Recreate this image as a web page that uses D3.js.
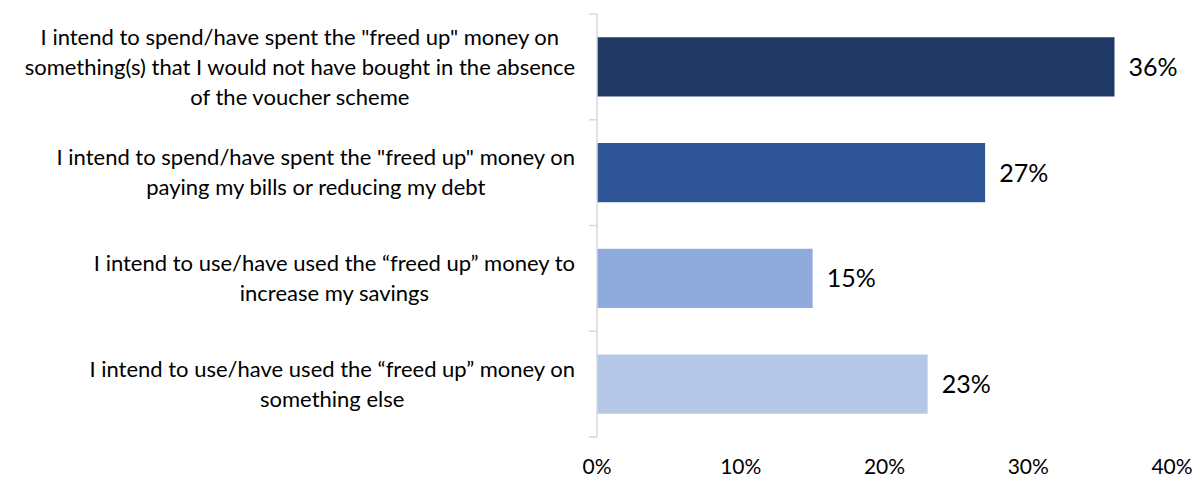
<!DOCTYPE html>
<html>
<head>
<meta charset="utf-8">
<script src="https://cdn.jsdelivr.net/npm/d3@7"></script>
<style>
  html, body { margin: 0; padding: 0; background: #fff; }
  svg { display: block; font-family: Lato, "Open Sans", sans-serif; }
</style>
</head>
<body>
<svg id="chart" width="1198" height="480"></svg>
<script>
// Survey responses: use of the "freed up" money
const categories = [
  ['I intend to spend/have spent the "freed up" money on',
   'something(s) that I would not have bought in the absence',
   'of the voucher scheme'],
  ['I intend to spend/have spent the "freed up" money on',
   'paying my bills or reducing my debt'],
  ['I intend to use/have used the \u201cfreed up\u201d money to',
   'increase my savings'],
  ['I intend to use/have used the \u201cfreed up\u201d money on',
   'something else']
];
const values = [36, 27, 15, 23];
const barColors = ["#203864", "#2f5597", "#8faadc", "#b4c7e7"];
const xTicks = [0, 10, 20, 30, 40];

const svg = d3.select("#chart");
const axisX = 597, plotTop = 14, plotBottom = 437, plotRight = 1172;

const x = d3.scaleLinear().domain([0, 40]).range([axisX, plotRight]);
const y = d3.scaleBand()
  .domain(d3.range(categories.length))
  .range([plotTop, plotBottom])
  .paddingInner(0.44)
  .paddingOuter(0.22);

// Bars
svg.append("g").selectAll("rect")
  .data(values)
  .join("rect")
  .attr("x", x(0))
  .attr("y", (d, i) => y(i))
  .attr("width", d => x(d) - x(0))
  .attr("height", y.bandwidth())
  .attr("fill", (d, i) => barColors[i]);

// Vertical category axis with ticks on band boundaries
const axis = svg.append("g").attr("stroke", "#d9d9d9").attr("stroke-width", 1.5);
axis.append("line")
  .attr("x1", axisX).attr("x2", axisX)
  .attr("y1", plotTop).attr("y2", plotBottom);
const boundaries = d3.range(categories.length + 1).map(i => plotTop + i * y.step());
axis.selectAll("line.tick")
  .data(boundaries)
  .join("line")
  .attr("class", "tick")
  .attr("x1", axisX - 8).attr("x2", axisX)
  .attr("y1", d => d).attr("y2", d => d);

// Value labels
svg.append("g").selectAll("text")
  .data(values)
  .join("text")
  .attr("x", d => x(d) + 14)
  .attr("y", (d, i) => y(i) + y.bandwidth() / 2)
  .attr("dy", "0.36em")
  .attr("font-size", 25)
  .attr("fill", "#000")
  .text(d => d + "%");

// Category labels: wrapped lines centred in a block aligned to the axis
const labelRight = 575, lineHeight = 30;
const catG = svg.append("g").attr("font-size", 22).attr("fill", "#000");
categories.forEach((lines, i) => {
  const g = catG.append("g");
  const texts = lines.map(l => g.append("text").text(l));
  const maxW = d3.max(texts, t => t.node().getComputedTextLength());
  const cx = labelRight - maxW / 2;
  const cy = y(i) + y.bandwidth() / 2;
  const startY = cy - (lines.length - 1) * lineHeight / 2;
  texts.forEach((t, j) => {
    t.attr("x", cx)
     .attr("y", startY + j * lineHeight)
     .attr("dy", "0.35em")
     .attr("text-anchor", "middle");
  });
});

// Horizontal value axis labels
svg.append("g").selectAll("text")
  .data(xTicks)
  .join("text")
  .attr("x", d => x(d))
  .attr("y", 467)
  .attr("dy", "0.35em")
  .attr("text-anchor", "middle")
  .attr("font-size", 21)
  .attr("fill", "#000")
  .text(d => d + "%");
</script>
</body>
</html>
